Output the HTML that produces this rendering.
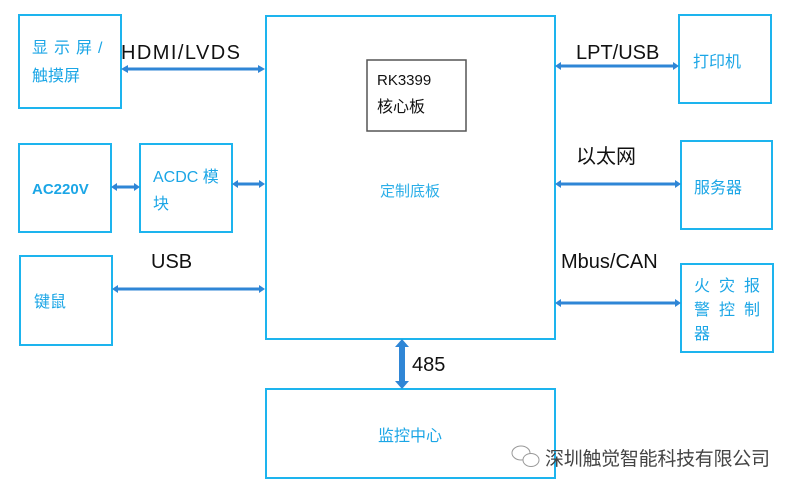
<!DOCTYPE html>
<html><head><meta charset="utf-8"><style>
html,body{margin:0;padding:0;background:#fff;width:797px;height:492px;overflow:hidden}
svg{display:block}
.b{fill:#fff;stroke:#1db4ee;stroke-width:2}
.t{font-family:"Liberation Sans","Noto Sans CJK SC",sans-serif;fill:#1ba6e6;font-size:15px;font-weight:bold}
.c{font-family:"Liberation Sans","Noto Sans CJK SC",sans-serif;fill:#1ba6e6;font-size:16px}
.k{font-family:"Liberation Sans","Noto Sans CJK SC",sans-serif;fill:#111;font-size:20px}
.a{fill:#2f86d6}
</style></head><body>
<svg width="797" height="492" viewBox="0 0 797 492" xmlns="http://www.w3.org/2000/svg">
<rect class="b" x="19" y="15" width="102" height="93"/>
<rect class="b" x="19" y="144" width="92" height="88"/>
<rect class="b" x="140" y="144" width="92" height="88"/>
<rect class="b" x="20" y="256" width="92" height="89"/>
<rect class="b" x="266" y="16" width="289" height="323"/>
<rect x="367" y="60" width="99" height="71" fill="#fff" stroke="#555" stroke-width="1.5"/>
<rect class="b" x="679" y="15" width="92" height="88"/>
<rect class="b" x="681" y="141" width="91" height="88"/>
<rect class="b" x="681" y="264" width="92" height="88"/>
<rect class="b" x="266" y="389" width="289" height="89"/>

<g class="a">
<polygon points="121,69 128,65 128,67.5 258,67.5 258,65 265,69 258,73 258,70.5 128,70.5 128,73"/>
<polygon points="111,187 117,183 117,185.5 134,185.5 134,183 140,187 134,191 134,188.5 117,188.5 117,191"/>
<polygon points="232,184 238,180 238,182.5 259,182.5 259,180 265,184 259,188 259,185.5 238,185.5 238,188"/>
<polygon points="112,289 118,285 118,287.5 259,287.5 259,285 265,289 259,293 259,290.5 118,290.5 118,293"/>
<polygon points="555,66 561,62 561,64.5 673,64.5 673,62 679,66 673,70 673,67.5 561,67.5 561,70"/>
<polygon points="555,184 561,180 561,182.5 675,182.5 675,180 681,184 675,188 675,185.5 561,185.5 561,188"/>
<polygon points="555,303 561,299 561,301.5 675,301.5 675,299 681,303 675,307 675,304.5 561,304.5 561,307"/>
<polygon points="402,339 409,347 405,347 405,381 409,381 402,389 395,381 399,381 399,347 395,347"/>
</g>

<text class="c" x="32" y="53" letter-spacing="6">显示屏/</text>
<text class="c" x="32" y="81">触摸屏</text>
<text class="t" x="32" y="194">AC220V</text>
<text class="c" x="153" y="182">ACDC 模</text>
<text class="c" x="153" y="209">块</text>
<text class="c" x="34" y="307">键鼠</text>
<text x="377" y="85" font-family="Liberation Sans,Noto Sans CJK SC,sans-serif" font-size="15" fill="#111">RK3399</text>
<text x="377" y="112" font-family="Liberation Sans,Noto Sans CJK SC,sans-serif" font-size="16" fill="#111">核心板</text>
<text x="410" y="196" text-anchor="middle" font-family="Liberation Sans,Noto Sans CJK SC,sans-serif" font-size="15" fill="#2aaee8">定制底板</text>
<text class="c" x="693" y="67">打印机</text>
<text class="c" x="694" y="193">服务器</text>
<text class="c" x="694" y="291" letter-spacing="9">火灾报</text>
<text class="c" x="694" y="315" letter-spacing="9">警控制</text>
<text class="c" x="694" y="339">器</text>
<text class="c" x="410" y="441" text-anchor="middle" font-size="17">监控中心</text>

<text class="k" x="121" y="59" font-size="22" textLength="119">HDMI/LVDS</text>
<text class="k" x="151" y="268">USB</text>
<text class="k" x="576" y="59">LPT/USB</text>
<text class="k" x="576" y="163" font-size="22">以太网</text>
<text class="k" x="561" y="268">Mbus/CAN</text>
<text class="k" x="412" y="371">485</text>

<g fill="#fff" stroke="#999" stroke-width="1">
<ellipse cx="521" cy="453" rx="9" ry="7"/>
<ellipse cx="531" cy="460" rx="8" ry="6.5"/>
</g>
<text x="545" y="465" font-family="Liberation Sans,Noto Sans CJK SC,sans-serif" font-size="19" fill="#444" textLength="225">深圳触觉智能科技有限公司</text>
</svg>
</body></html>
